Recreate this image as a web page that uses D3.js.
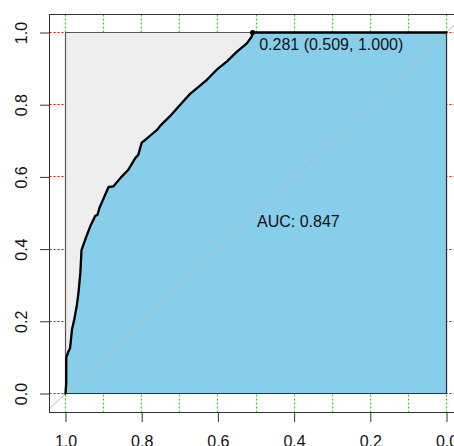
<!DOCTYPE html>
<html><head><meta charset="utf-8">
<script src="https://cdn.jsdelivr.net/npm/d3@7"></script>
<style>html,body{margin:0;padding:0;background:#fff;overflow:hidden}</style>
</head><body>
<svg id="chart" width="454" height="446"></svg>
<script>
// ROC curve data (specificity, sensitivity)
const specificity = [1.000,0.998,0.998,0.994,0.988,0.983,0.977,0.970,0.966,0.961,0.958,0.947,0.935,0.922,0.916,0.911,0.887,0.874,0.855,0.835,0.817,0.809,0.800,0.790,0.778,0.759,0.751,0.725,0.699,0.673,0.650,0.629,0.603,0.576,0.550,0.524,0.511,0.509,0.000];
const sensitivity = [0.000,0.030,0.099,0.112,0.126,0.177,0.205,0.246,0.279,0.334,0.397,0.430,0.463,0.492,0.495,0.514,0.572,0.574,0.598,0.620,0.652,0.661,0.695,0.703,0.714,0.731,0.742,0.769,0.800,0.830,0.850,0.869,0.897,0.920,0.947,0.970,0.989,1.000,1.000];
const xTicks = [1.0,0.8,0.6,0.4,0.2,0.0];
const yTicks = [0.0,0.2,0.4,0.6,0.8,1.0];
const xGrid = [1.0,0.9,0.8,0.7,0.6,0.5,0.4,0.3,0.2,0.1,0.0];
const yGrid = [0.0,0.2,0.4,0.6,0.8,1.0];
const aucValue = 0.847;
const bestThreshold = 0.281, bestSpec = 0.509, bestSens = 1.000;

const svg = d3.select("#chart");
const x = d3.scaleLinear().domain([1,0]).range([65.5,446.5]);
const y = d3.scaleLinear().domain([0,1]).range([393.5,32.5]);
const fx0 = 49.5, fx1 = 461.5, fy0 = 14.5, fy1 = 412.5;
const font = "'Liberation Sans', Arial, sans-serif";

svg.append("defs").append("clipPath").attr("id","clip")
  .append("rect").attr("x",fx0).attr("y",fy0).attr("width",fx1-fx0).attr("height",fy1-fy0);
const g = svg.append("g").attr("clip-path","url(#clip)");

// grid
g.selectAll(".vg").data(xGrid).join("line")
  .attr("x1",d=>Math.round(x(d)-0.5)+0.5).attr("x2",d=>Math.round(x(d)-0.5)+0.5).attr("y1",fy0).attr("y2",fy1)
  .attr("stroke","#00EE00").attr("stroke-width",1).attr("stroke-dasharray","2,2");
g.selectAll(".hg").data(yGrid).join("line")
  .attr("y1",d=>Math.round(y(d)-0.5)+0.5).attr("y2",d=>Math.round(y(d)-0.5)+0.5).attr("x1",fx0).attr("x2",fx1)
  .attr("stroke","#FF0000").attr("stroke-width",1).attr("stroke-dasharray","2,2");

// max auc polygon
const sq = [[1,0],[1,1],[0,1],[0,0]];
g.append("polygon").attr("points",sq.map(p=>[x(p[0]),y(p[1])].join(",")).join(" "))
  .attr("fill","#EEEEEE").attr("stroke","#555").attr("stroke-width",1.2);

// auc polygon
const pts = specificity.map((s,i)=>[s,sensitivity[i]]);
const poly = pts.concat([[0,0],[1,0]]);
g.append("polygon").attr("points",poly.map(p=>[x(p[0]),y(p[1])].join(",")).join(" "))
  .attr("fill","#87CEEB").attr("stroke","#333").attr("stroke-width",1.2);

// diagonal
g.append("line").attr("x1",x(1.1)).attr("y1",y(-0.1)).attr("x2",x(-0.1)).attr("y2",y(1.1))
  .attr("stroke","#B8B8B8").attr("stroke-width",1);

// curve
g.append("path").attr("d",d3.line().x(d=>x(d[0])).y(d=>y(d[1]))(pts))
  .attr("fill","none").attr("stroke","#000").attr("stroke-width",2.3)
  .attr("stroke-linejoin","round").attr("stroke-linecap","round");

// threshold point
g.append("circle").attr("cx",x(bestSpec)).attr("cy",y(bestSens)).attr("r",2.6).attr("fill","#000");
svg.append("text").attr("x",x(bestSpec)+6.6).attr("y",y(bestSens)+17.5)
  .attr("font-family",font).attr("font-size",16).attr("fill","#111")
  .text(`${bestThreshold.toFixed(3)} (${bestSpec.toFixed(3)}, ${bestSens.toFixed(3)})`);

// AUC text
svg.append("text").attr("x",x(0.5)+1).attr("y",226.7)
  .attr("font-family",font).attr("font-size",16).attr("fill","#111")
  .text(`AUC: ${aucValue.toFixed(3)}`);

// frame
svg.append("rect").attr("x",fx0).attr("y",fy0).attr("width",fx1-fx0).attr("height",fy1-fy0)
  .attr("fill","none").attr("stroke","#333").attr("stroke-width",1);

// axes
const xAxis = d3.axisBottom(x).tickValues(xTicks).tickFormat(d3.format(".1f")).tickSize(9.5).tickPadding(14);
const xa = svg.append("g").attr("transform",`translate(0,${fy1})`).call(xAxis);
xa.select(".domain").remove();
xa.selectAll("line").attr("stroke","#333");
xa.selectAll("text").attr("font-family",font).attr("font-size",16).attr("fill","#111");

const yAxis = d3.axisLeft(y).tickValues(yTicks).tickFormat(d3.format(".1f")).tickSize(9.5);
const ya = svg.append("g").attr("transform",`translate(${fx0},0)`).call(yAxis);
ya.select(".domain").remove();
ya.selectAll("line").attr("stroke","#333");
ya.selectAll("text").remove();
ya.selectAll(".tick").append("text")
  .attr("transform","translate(-22.5,0) rotate(-90)")
  .attr("text-anchor","middle").attr("dy","0")
  .attr("font-family",font).attr("font-size",16).attr("fill","#111")
  .text(d=>d3.format(".1f")(d));
</script>
</body></html>
